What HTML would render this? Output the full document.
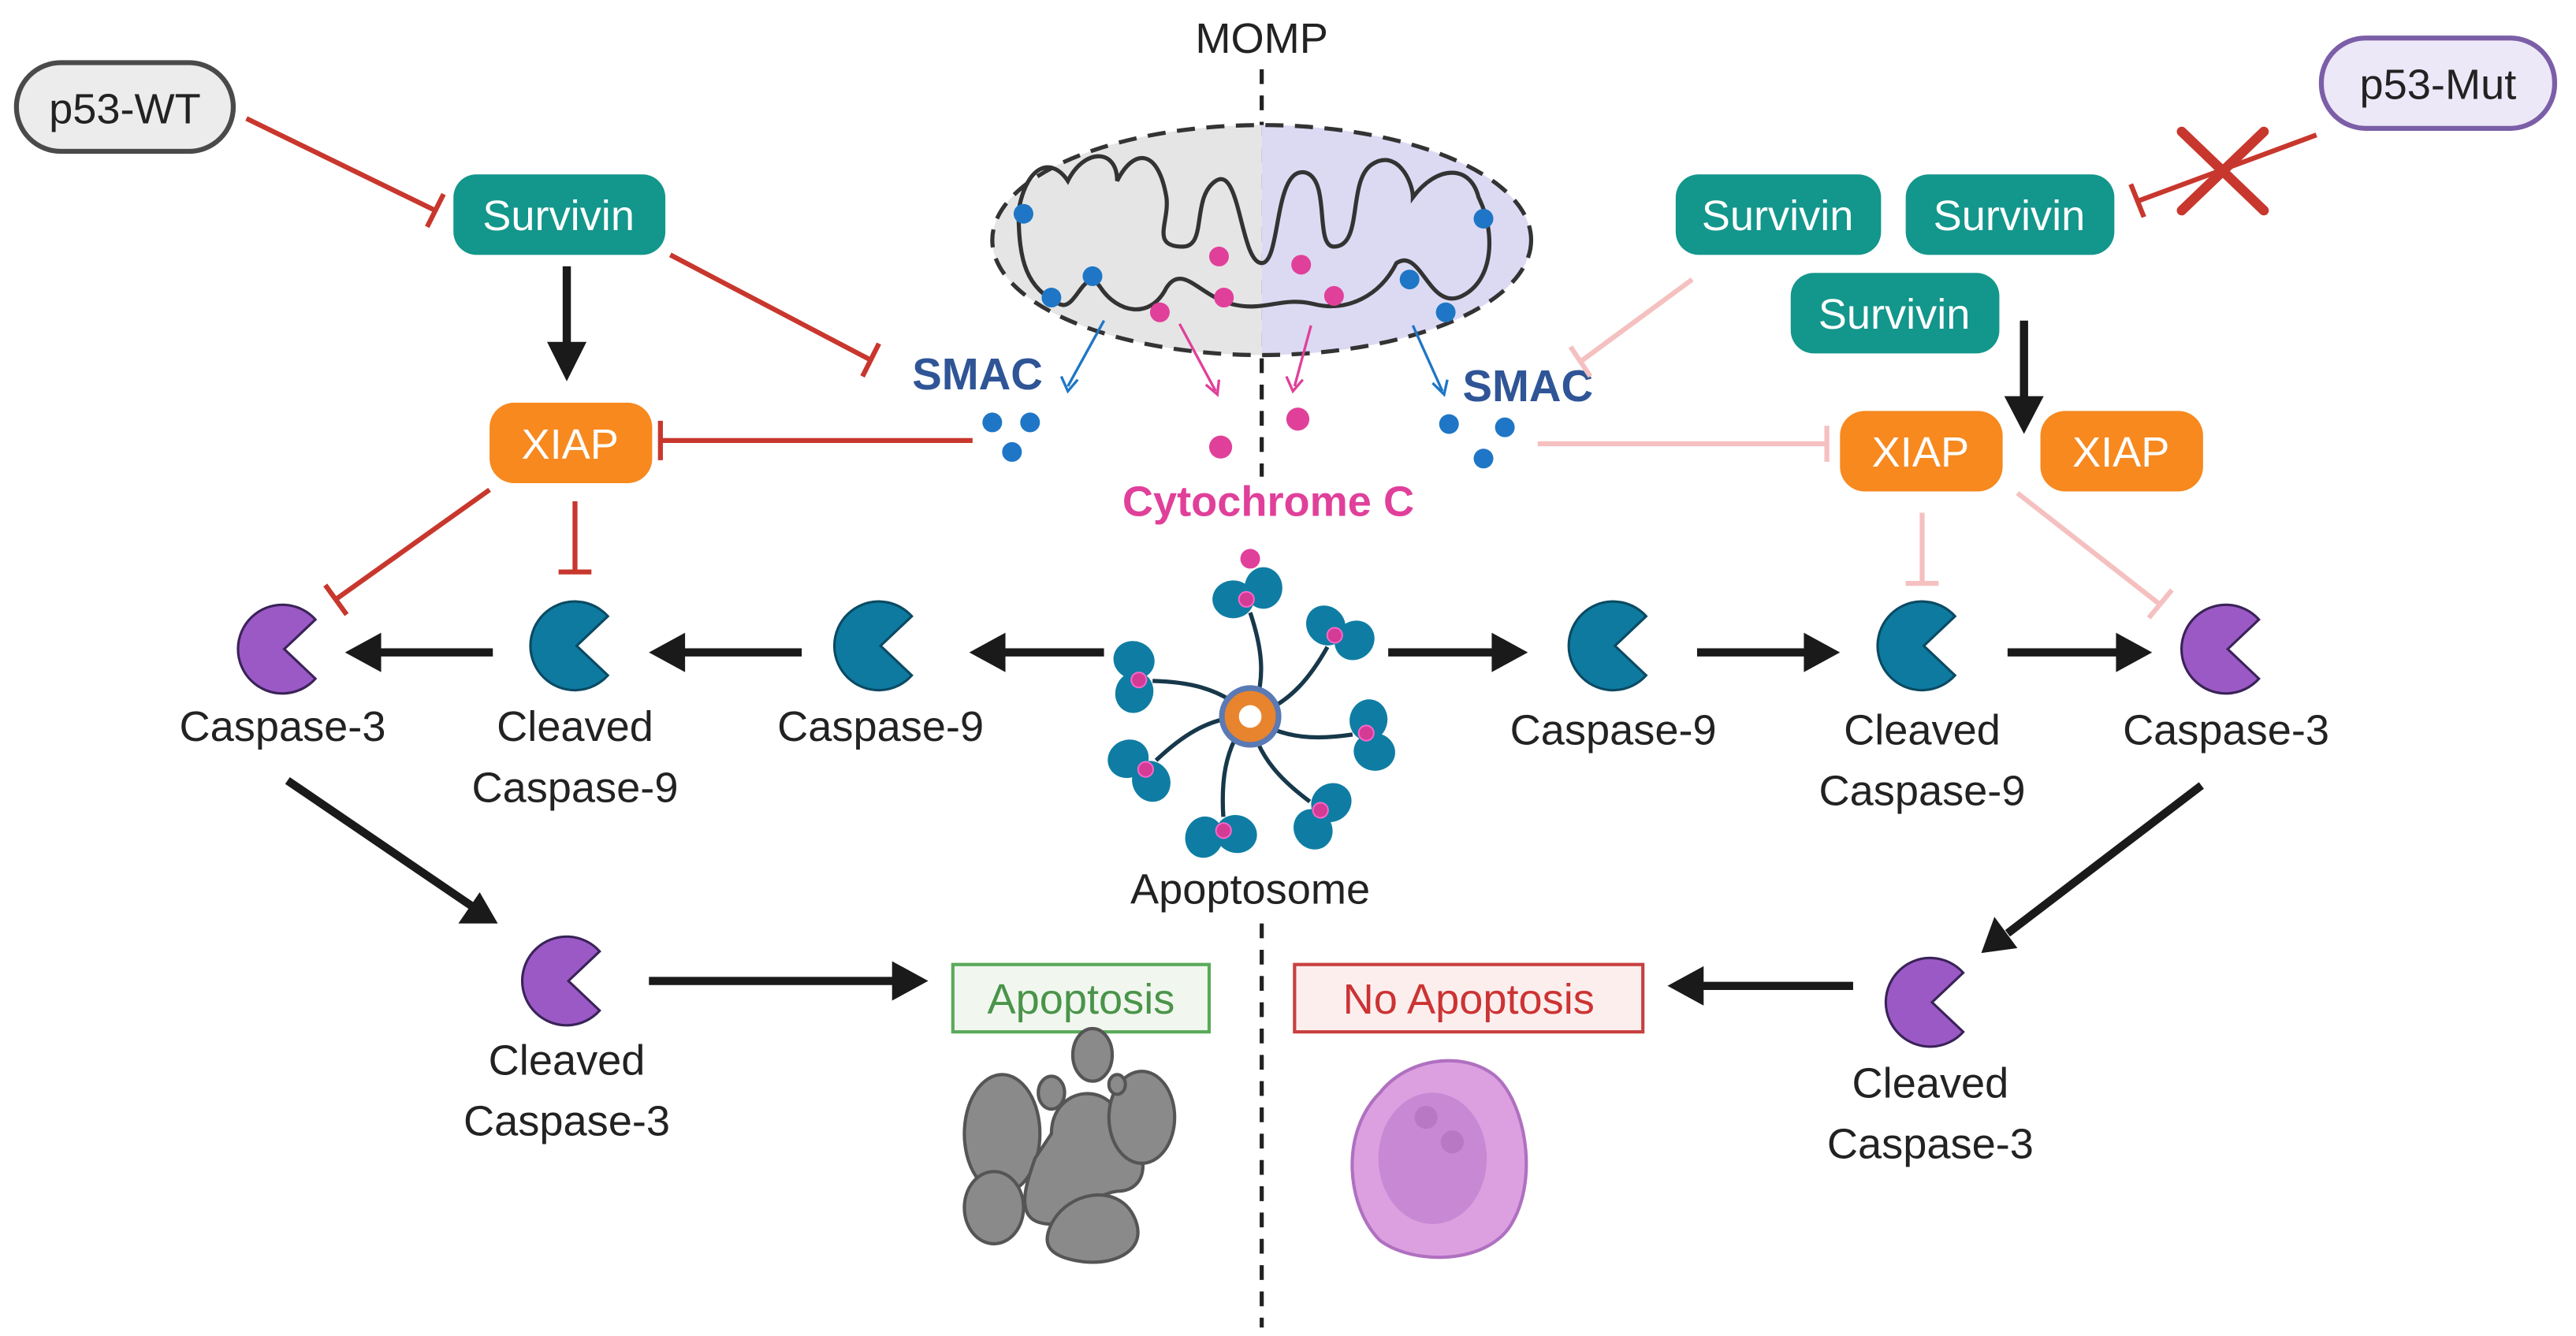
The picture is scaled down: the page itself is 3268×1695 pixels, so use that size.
<!DOCTYPE html>
<html><head><meta charset="utf-8"><style>html,body{margin:0;padding:0;background:#fff}svg{display:block}text{font-family:"Liberation Sans",sans-serif}</style></head>
<body>
<svg width="3268" height="1695" viewBox="0 0 1568 813" xmlns="http://www.w3.org/2000/svg">
<defs>
<path id="pm" d="M20,-18 A27,27 0 1,0 20,18 L1,0 Z"/>
<g id="arm"><path d="M0,0 C10,-20 5,-40 0,-55" fill="none" stroke="#17384a" stroke-width="2.2"/><ellipse cx="-9" cy="-62" rx="11" ry="10" fill="#0f7da3"/><ellipse cx="7" cy="-68" rx="10" ry="11" fill="#0f7da3"/><circle cx="-2" cy="-62" r="4" fill="#d43b94" stroke="#f6c" stroke-width="0.8"/></g>
</defs>
<rect width="1568" height="813" fill="#fff"/>

<line x1="768" y1="42" x2="768" y2="290" stroke="#222" stroke-width="2.5" stroke-dasharray="9,7"/>
<line x1="768" y1="562" x2="768" y2="808" stroke="#222" stroke-width="2.5" stroke-dasharray="9,7"/>
<text x="768" y="32" font-size="26" text-anchor="middle" fill="#222">MOMP</text>

<clipPath id="cl"><rect x="590" y="70" width="178" height="170"/></clipPath>
<clipPath id="cr"><rect x="768" y="70" width="180" height="170"/></clipPath>
<ellipse cx="768" cy="146" rx="164" ry="70" fill="#e5e5e5" clip-path="url(#cl)"/>
<ellipse cx="768" cy="146" rx="164" ry="70" fill="#dcdaf3" clip-path="url(#cr)"/>
<ellipse cx="768" cy="146" rx="164" ry="70" fill="none" stroke="#333" stroke-width="2.5" stroke-dasharray="11,7"/>
<path d="M620,128 C625,100 640,95 650,110 C660,90 680,90 680,110 C690,90 705,90 710,120 C712,135 700,150 720,150 C735,150 725,120 740,110 C755,100 755,160 768,160 C780,160 775,100 795,105 C810,110 800,150 812,150 C830,150 820,110 835,100 C850,90 860,110 860,120 C875,100 895,100 900,120 C910,140 910,170 890,180 C870,190 865,150 850,160 C840,180 820,190 800,185 C780,180 770,190 750,185 C730,180 720,160 710,175 C700,195 680,190 670,175 C660,160 655,190 645,185 C625,175 620,160 620,128 Z" fill="none" stroke="#333" stroke-width="2.5"/>
<g fill="#1f76c6"><circle cx="623" cy="130" r="6"/><circle cx="640" cy="181" r="6"/><circle cx="665" cy="168" r="6"/><circle cx="880" cy="190" r="6"/><circle cx="858" cy="170" r="6"/><circle cx="903" cy="133" r="6"/></g>
<g fill="#e0409a"><circle cx="706" cy="190" r="6"/><circle cx="742" cy="156" r="6"/><circle cx="745" cy="181" r="6"/><circle cx="792" cy="161" r="6"/><circle cx="812" cy="180" r="6"/></g>
<g stroke-width="1.6" fill="none">
<line x1="672" y1="195" x2="650" y2="235" stroke="#1f76c6"/><path d="M646,229 L650,238 L656,231" stroke="#1f76c6"/>
<line x1="718" y1="197" x2="740" y2="238" stroke="#e0409a"/><path d="M734,234 L741,240 L742,231" stroke="#e0409a"/>
<line x1="798" y1="198" x2="788" y2="235" stroke="#e0409a"/><path d="M783,229 L787,238 L793,231" stroke="#e0409a"/>
<line x1="860" y1="198" x2="878" y2="238" stroke="#1f76c6"/><path d="M872,233 L879,240 L881,231" stroke="#1f76c6"/>
</g>
<text x="595" y="237" font-size="27" font-weight="bold" text-anchor="middle" fill="#2f5597">SMAC</text>
<text x="930" y="244" font-size="27" font-weight="bold" text-anchor="middle" fill="#2f5597">SMAC</text>
<g fill="#1f76c6"><circle cx="604" cy="257" r="6"/><circle cx="627" cy="257" r="6"/><circle cx="616" cy="275" r="6"/><circle cx="882" cy="258" r="6"/><circle cx="916" cy="260" r="6"/><circle cx="903" cy="279" r="6"/></g>
<g fill="#e0409a"><circle cx="743" cy="272" r="7"/><circle cx="790" cy="255" r="7"/><circle cx="761" cy="340" r="6"/></g>
<text x="772" y="314" font-size="26" font-weight="bold" text-anchor="middle" fill="#e0409a">Cytochrome C</text>

<rect x="10" y="38" width="132" height="54" rx="27" fill="#ececec" stroke="#4a4a4a" stroke-width="3"/>
<text x="76" y="75" font-size="26" text-anchor="middle" fill="#222">p53-WT</text>
<rect x="1413" y="23" width="142" height="55" rx="27" fill="#ece8f7" stroke="#7b5ea7" stroke-width="3"/>
<text x="1484" y="60" font-size="26" text-anchor="middle" fill="#222">p53-Mut</text>

<g font-size="26" text-anchor="middle" fill="#fff">
<rect x="276" y="106" width="129" height="49" rx="14" fill="#13968b"/><text x="340" y="140">Survivin</text>
<rect x="1020" y="106" width="125" height="49" rx="14" fill="#13968b"/><text x="1082" y="140">Survivin</text>
<rect x="1160" y="106" width="127" height="49" rx="14" fill="#13968b"/><text x="1223" y="140">Survivin</text>
<rect x="1090" y="166" width="127" height="49" rx="14" fill="#13968b"/><text x="1153" y="200">Survivin</text>
<rect x="298" y="245" width="99" height="49" rx="15" fill="#f7891f"/><text x="347" y="279">XIAP</text>
<rect x="1120" y="250" width="99" height="49" rx="15" fill="#f7891f"/><text x="1169" y="284">XIAP</text>
<rect x="1242" y="250" width="99" height="49" rx="15" fill="#f7891f"/><text x="1291" y="284">XIAP</text>
</g>

<g stroke="#c8372d" stroke-width="3" fill="none">
<line x1="150" y1="72" x2="265" y2="128"/><line x1="260" y1="138" x2="270" y2="118"/>
<line x1="408" y1="155" x2="530" y2="219"/><line x1="525" y1="229" x2="535" y2="209"/>
<line x1="592" y1="268" x2="402" y2="268"/><line x1="402" y1="256" x2="402" y2="280"/>
<line x1="298" y1="298" x2="204" y2="365"/><line x1="198" y1="356" x2="211" y2="374"/>
<line x1="350" y1="305" x2="350" y2="348"/><line x1="340" y1="348" x2="360" y2="348"/>
<line x1="1410" y1="82" x2="1302" y2="122"/><line x1="1297" y1="112" x2="1305" y2="132"/>
</g>
<g stroke="#c8372d" stroke-width="6" stroke-linecap="round"><line x1="1328" y1="80" x2="1378" y2="128"/><line x1="1378" y1="80" x2="1328" y2="128"/></g>
<g stroke="#f5c0c0" stroke-width="3" fill="none">
<line x1="1030" y1="170" x2="962" y2="220"/><line x1="956" y1="211" x2="968" y2="229"/>
<line x1="936" y1="270" x2="1112" y2="270"/><line x1="1112" y1="259" x2="1112" y2="281"/>
<line x1="1170" y1="312" x2="1170" y2="355"/><line x1="1160" y1="355" x2="1180" y2="355"/>
<line x1="1228" y1="300" x2="1315" y2="368"/><line x1="1308" y1="376" x2="1322" y2="359"/>
</g>

<g stroke="#1a1a1a" stroke-width="5" fill="#1a1a1a">
<line x1="345" y1="162" x2="345" y2="212"/><polygon points="333,208 357,208 345,232" stroke="none"/>
<line x1="1232" y1="195" x2="1232" y2="245"/><polygon points="1220,241 1244,241 1232,264" stroke="none"/>
<line x1="300" y1="397" x2="228" y2="397"/><polygon points="232,385 232,409 210,397" stroke="none"/>
<line x1="488" y1="397" x2="413" y2="397"/><polygon points="417,385 417,409 395,397" stroke="none"/>
<line x1="672" y1="397" x2="608" y2="397"/><polygon points="612,385 612,409 590,397" stroke="none"/>
<line x1="845" y1="397" x2="912" y2="397"/><polygon points="908,385 908,409 930,397" stroke="none"/>
<line x1="1033" y1="397" x2="1102" y2="397"/><polygon points="1098,385 1098,409 1120,397" stroke="none"/>
<line x1="1222" y1="397" x2="1292" y2="397"/><polygon points="1288,385 1288,409 1310,397" stroke="none"/>
<line x1="395" y1="597" x2="547" y2="597"/><polygon points="543,585 543,609 565,597" stroke="none"/>
<line x1="1128" y1="600" x2="1033" y2="600"/><polygon points="1037,588 1037,612 1015,600" stroke="none"/>
<line x1="175" y1="475" x2="288" y2="552"/><polygon points="279,562 292,543 303,562" stroke="none"/>
<line x1="1340" y1="478" x2="1222" y2="568"/><polygon points="1214,558 1228,577 1206,580" stroke="none"/>
</g>

<g stroke="#3a2358" stroke-width="1.5">
<use href="#pm" transform="translate(172,395)" fill="#9b59c6"/>
<use href="#pm" transform="translate(1355,395)" fill="#9b59c6"/>
<use href="#pm" transform="translate(345,597)" fill="#9b59c6"/>
<use href="#pm" transform="translate(1175,610)" fill="#9b59c6"/>
</g>
<g stroke="#0b4a63" stroke-width="1.5" fill="#0e7aa0">
<use href="#pm" transform="translate(350,393)"/>
<use href="#pm" transform="translate(535,393)"/>
<use href="#pm" transform="translate(982,393)"/>
<use href="#pm" transform="translate(1170,393)"/>
</g>

<g transform="translate(761,436) scale(1.15)">
<use href="#arm" transform="rotate(0)"/><use href="#arm" transform="rotate(48)"/><use href="#arm" transform="rotate(100)"/><use href="#arm" transform="rotate(145)"/><use href="#arm" transform="rotate(195)"/><use href="#arm" transform="rotate(245)"/><use href="#arm" transform="rotate(290)"/>
<circle r="15" fill="#e8842d" stroke="#5a7ab5" stroke-width="3"/><circle r="6" fill="#fff"/>
</g>

<g font-size="26" text-anchor="middle" fill="#222">
<text x="172" y="451">Caspase-3</text>
<text x="350" y="451">Cleaved</text><text x="350" y="488">Caspase-9</text>
<text x="536" y="451">Caspase-9</text>
<text x="761" y="550">Apoptosome</text>
<text x="982" y="453">Caspase-9</text>
<text x="1170" y="453">Cleaved</text><text x="1170" y="490">Caspase-9</text>
<text x="1355" y="453">Caspase-3</text>
<text x="345" y="654">Cleaved</text><text x="345" y="691">Caspase-3</text>
<text x="1175" y="668">Cleaved</text><text x="1175" y="705">Caspase-3</text>
</g>

<rect x="580" y="587" width="156" height="41" fill="#f1f7ef" stroke="#5aaa5a" stroke-width="2"/>
<text x="658" y="617" font-size="26" text-anchor="middle" fill="#4a944a">Apoptosis</text>
<rect x="788" y="587" width="212" height="41" fill="#fdeeee" stroke="#c84040" stroke-width="2"/>
<text x="894" y="617" font-size="26" text-anchor="middle" fill="#cc3333">No Apoptosis</text>

<g fill="#8a8a8a" stroke="#555" stroke-width="2">
<ellipse cx="610" cy="690" rx="23" ry="36"/>
<path d="M640,690 C640,660 680,655 685,690 C700,700 700,725 680,725 C660,728 660,745 640,745 C615,745 625,720 630,705 Z"/>
<ellipse cx="695" cy="680" rx="20" ry="28"/>
<ellipse cx="665" cy="642" rx="12" ry="16"/>
<ellipse cx="640" cy="665" rx="8" ry="10"/>
<ellipse cx="680" cy="660" rx="5" ry="6"/>
<ellipse cx="605" cy="735" rx="18" ry="22"/>
<path d="M640,745 C650,725 680,720 690,740 C700,760 680,770 660,768 C635,765 635,755 640,745 Z"/>
</g>
<path d="M840,665 C860,640 900,640 915,660 C930,680 935,720 920,745 C905,770 860,770 840,755 C820,735 815,690 840,665 Z" fill="#dca0e0" stroke="#b070c0" stroke-width="2"/>
<ellipse cx="872" cy="705" rx="33" ry="40" fill="#c988d4"/>
<circle cx="868" cy="680" r="7" fill="#b878c4"/><circle cx="884" cy="695" r="7" fill="#b878c4"/>
</svg>
</body></html>
